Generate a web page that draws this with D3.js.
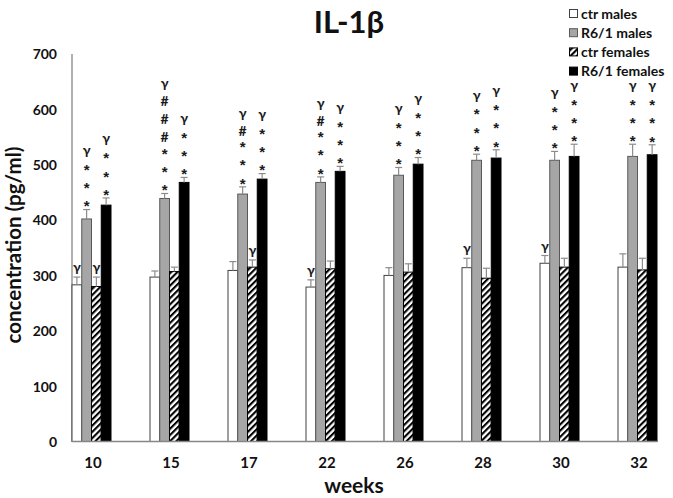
<!DOCTYPE html>
<html><head><meta charset="utf-8">
<script src="https://cdn.jsdelivr.net/npm/d3@7"></script>
<style>
html,body{margin:0;padding:0;background:#fff;}
svg{display:block;font-family:Lato,"Open Sans",sans-serif;font-weight:bold;}
</style></head>
<body>
<svg id="chart" width="673" height="498"></svg>
<script>
const weeks = ["10","15","17","22","26","28","30","32"];
const seriesNames = ["ctr males","R6/1 males","ctr females","R6/1 females"];
const ctrMales      = [283, 297, 309, 279, 300, 314, 322, 315];
const ctrMalesErr   = [14, 11, 16, 13, 14, 17, 14, 24];
const r61Males      = [402, 439, 447, 468, 481, 508, 508, 515];
const r61MalesErr   = [17, 9, 13, 10, 14, 11, 16, 22];
const ctrFemales    = [280, 307, 315, 312, 306, 295, 315, 310];
const ctrFemalesErr = [17, 8, 13, 14, 15, 18, 16, 21];
const r61Females    = [427, 468, 474, 488, 501, 512, 515, 518];
const r61FemalesErr = [13, 9, 10, 9, 12, 15, 22, 18];
const ctrMalesAnn   = ["γ","","","γ","","γ","γ",""];
const r61MalesAnn   = ["γ***","γ###***","γ#***","γ#***","γ***","γ***","γ***","γ***"];
const ctrFemalesAnn = ["γ","","γ","","","","",""];
const r61FemalesAnn = ["γ***","γ***","γ***","γ***","γ***","γ***","γ***","γ***"];
const yTicks = [0,100,200,300,400,500,600,700];

const series = [
  {name: seriesNames[0], vals: ctrMales, errs: ctrMalesErr, ann: ctrMalesAnn, fill: "#ffffff", stroke: "#404040"},
  {name: seriesNames[1], vals: r61Males, errs: r61MalesErr, ann: r61MalesAnn, fill: "#a6a6a6", stroke: "#595959"},
  {name: seriesNames[2], vals: ctrFemales, errs: ctrFemalesErr, ann: ctrFemalesAnn, fill: "url(#hatch)", stroke: "#000000"},
  {name: seriesNames[3], vals: r61Females, errs: r61FemalesErr, ann: r61FemalesAnn, fill: "#000000", stroke: "#000000"}
];

const svg = d3.select("#chart");
const defs = svg.append("defs");
const pat = defs.append("pattern").attr("id","hatch").attr("patternUnits","userSpaceOnUse")
  .attr("width",4.4).attr("height",4.4).attr("patternTransform","rotate(45)");
pat.append("rect").attr("width",4.4).attr("height",4.4).attr("fill","#fff");
pat.append("rect").attr("width",2.1).attr("height",4.4).attr("fill","#000");

const x0 = 72, step = 78;
const x = d3.scaleBand().domain(weeks).range([x0, x0 + step*weeks.length]).paddingInner(0).paddingOuter(0);
const groupW = x.bandwidth()*0.5;
const xs = d3.scaleBand().domain(d3.range(series.length)).range([0, groupW]);
const y = d3.scaleLinear().domain([0,700]).range([441.5, 54]);

// axes
const axisRight = x(weeks[weeks.length-1]) + groupW;
svg.append("line").attr("x1",x0).attr("x2",x0).attr("y1",y(700)).attr("y2",y(0)).attr("stroke","#868686").attr("stroke-width",1.3);

const yAxis = d3.axisLeft(y).tickValues(yTicks).tickSize(0).tickPadding(0);
const yg = svg.append("g").attr("transform","translate(57,0)").call(yAxis);
yg.select(".domain").remove();
yg.selectAll("text").attr("font-size",14).attr("font-family","Lato,'Open Sans',sans-serif").attr("font-weight","bold").attr("fill","#111").attr("dy","0.35em");

// bars
series.forEach((s, si) => {
  const g = svg.append("g");
  g.selectAll("rect").data(weeks).join("rect")
    .attr("x", (w) => x(w) + xs(si))
    .attr("y", (w,i) => y(s.vals[i]))
    .attr("width", xs.bandwidth())
    .attr("height", (w,i) => y(0) - y(s.vals[i]))
    .attr("fill", s.fill)
    .attr("stroke", s.stroke).attr("stroke-width", 1);
  g.selectAll("line.err").data(weeks).join("line").attr("class","err")
    .attr("x1", (w) => x(w) + xs(si) + xs.bandwidth()/2)
    .attr("x2", (w) => x(w) + xs(si) + xs.bandwidth()/2)
    .attr("y1", (w,i) => y(s.vals[i]))
    .attr("y2", (w,i) => y(s.vals[i] + s.errs[i]))
    .attr("stroke", "#8c8c8c").attr("stroke-width", 1.2);
  g.selectAll("line.cap").data(weeks).join("line").attr("class","cap")
    .attr("x1", (w) => x(w) + xs(si) + xs.bandwidth()/2 - 3.5)
    .attr("x2", (w) => x(w) + xs(si) + xs.bandwidth()/2 + 3.5)
    .attr("y1", (w,i) => y(s.vals[i] + s.errs[i]))
    .attr("y2", (w,i) => y(s.vals[i] + s.errs[i]))
    .attr("stroke", "#8c8c8c").attr("stroke-width", 1.2);
});

svg.append("line").attr("x1",x0).attr("x2",axisRight).attr("y1",y(0)).attr("y2",y(0)).attr("stroke","#868686").attr("stroke-width",1.3);

// annotations
const annFont = {"*": "'Liberation Sans',Arial,sans-serif", "#": "Lato,'Open Sans',sans-serif", "γ": "Lato,'Open Sans',sans-serif"};
const annSize = {"*": 15, "#": 14, "γ": 14};
const centerOff = {"*": 8.4, "#": 5, "γ": 3};
function gap(lower, upper){
  if (lower === "*" && upper === "*") return 18.3;
  if (lower === "*" && upper === "#") return 13;
  if (lower === "#" && upper === "#") return 18;
  if (lower === "#" && upper === "γ") return 16;
  if (lower === "*" && upper === "γ") return 14.5;
  return 16;
}
series.forEach((s, si) => {
  weeks.forEach((w, i) => {
    const str = s.ann[i];
    if (!str) return;
    const chars = Array.from(str).reverse();
    const cx = x(w) + xs(si) + xs.bandwidth()/2;
    let c = y(s.vals[i] + s.errs[i]) - (chars[0] === "γ" ? 8 : 6.5);
    chars.forEach((ch, k) => {
      if (k > 0) c -= gap(chars[k-1], ch);
      svg.append("text").attr("x", cx).attr("y", c + centerOff[ch])
        .attr("text-anchor","middle")
        .attr("font-family", annFont[ch])
        .attr("font-size", annSize[ch])
        .attr("fill","#1a1a1a").text(ch);
    });
  });
});

// x tick labels
svg.append("g").selectAll("text").data(weeks).join("text")
  .attr("x", (w) => x(w) + groupW/2 + 1.5)
  .attr("y", 468)
  .attr("text-anchor","middle").attr("font-size",15).attr("fill","#111")
  .text((w) => w);

// title
svg.append("text").attr("x",349).attr("y",33).attr("text-anchor","middle")
  .attr("font-size",31).attr("fill","#111").text("IL-1β");

// axis titles
svg.append("text").attr("x",354).attr("y",493).attr("text-anchor","middle")
  .attr("font-size",21).attr("fill","#111").text("weeks");
svg.append("text").attr("transform","translate(21,245) rotate(-90)").attr("text-anchor","middle")
  .attr("font-size",20.5).attr("fill","#111").text("concentration (pg/ml)");

// legend
const lg = svg.append("g").attr("transform","translate(569,0)");
series.forEach((s, si) => {
  const cy = 13.5 + si*19.2;
  lg.append("rect").attr("x",0.5).attr("y",cy-4).attr("width",8).attr("height",8)
    .attr("fill", s.fill).attr("stroke", si===0 ? "#404040" : s.stroke).attr("stroke-width",1);
  lg.append("text").attr("x",12).attr("y",cy+5).attr("font-size",14).attr("fill","#111").text(s.name);
});
</script>
</body></html>
